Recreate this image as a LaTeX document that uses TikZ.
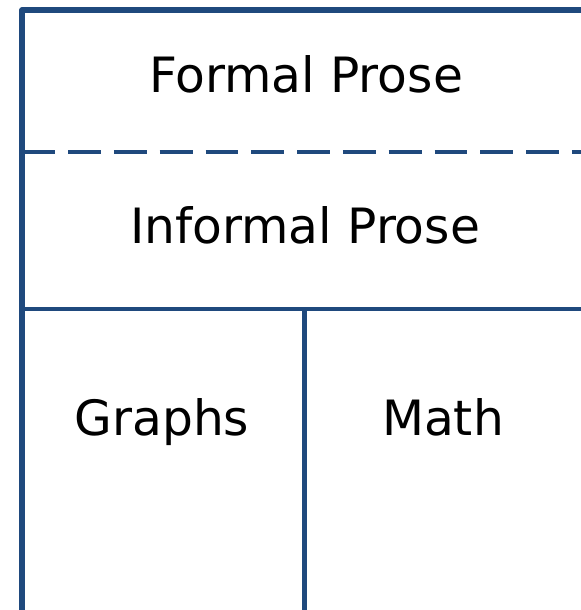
\documentclass[tikz,border=0pt]{standalone}
\usepackage{fontspec}
\setmainfont{DejaVu Sans}
\definecolor{frameblue}{HTML}{1F497D}
\tikzset{
  frameline/.style={draw=frameblue, line width=4.5pt, line join=round},
  cellline/.style={draw=frameblue, line width=3.2pt},
  dashline/.style={draw=frameblue, line width=3.4pt, dash pattern=on 24.6pt off 9.75pt},
  label/.style={anchor=base, inner sep=0pt, font=\fontsize{36.5}{44}\selectfont, text=black}
}
\begin{document}
\begin{tikzpicture}[x=0.75pt, y=-0.75pt]
\useasboundingbox (0,0) rectangle (581,610);
\clip (0,0) rectangle (581,610);
% frame (left and top edges; right and bottom run off the picture)
\draw[frameline] (22.3,640) -- (22.3,10.3) -- (620,10.3);
% dashed divider
\draw[dashline] (22.3,151.8) -- (620,151.8);
% solid divider
\draw[cellline] (22.3,308.7) -- (620,308.7);
% vertical divider
\draw[cellline] (304.5,308.7) -- (304.5,640);
% labels
\node[label] (formal) at (306,93) {Formal Prose};
\node[label] (informal) at (305,243) {Informal Prose};
\node[label] (graphs) at (162,435) {Graphs};
\node[label] (math) at (443,435) {Math};
\end{tikzpicture}
\end{document}
